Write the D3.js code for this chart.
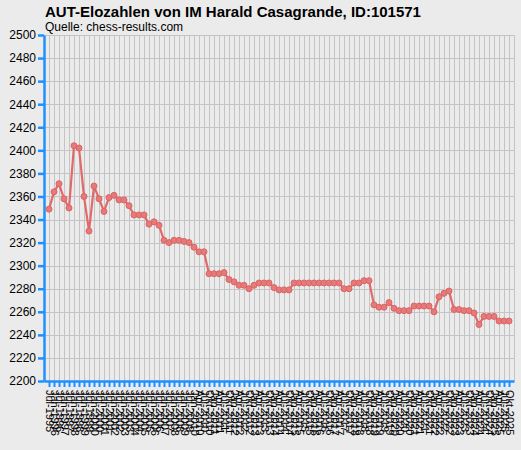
<!DOCTYPE html>
<html>
<head>
<meta charset="utf-8">
<script src="https://cdn.jsdelivr.net/npm/d3@7"></script>
<style>
  html, body { margin: 0; padding: 0; background: #ebebeb; }
  svg { display: block; font-family: "Liberation Sans", Arial, sans-serif; }
</style>
</head>
<body>
<svg id="chart" width="521" height="450"></svg>
<script>
const titleText = "AUT-Elozahlen von IM Harald Casagrande, ID:101571";
const subtitleText = "Quelle: chess-results.com";

const periods = [
  "Jul-1995","Jan-1996","Jul-1996","Jan-1997","Jul-1997","Jan-1998","Jul-1998","Jan-1999","Jul-1999","Jan-2000",
  "Jul-2000","Jan-2001","Jul-2001","Jan-2002","Jul-2002","Jan-2003","Jul-2003","Jan-2004","Jul-2004","Jan-2005",
  "Jul-2005","Jan-2006","Jul-2006","Jan-2007","Jul-2007","Jan-2008","Jul-2008","Jan-2009","Jul-2009","Jan-2010",
  "Apr-2010","Jul-2010","Okt-2010",
  "Jan-2011","Apr-2011","Jul-2011","Okt-2011","Jan-2012","Apr-2012","Jul-2012","Okt-2012",
  "Jan-2013","Apr-2013","Jul-2013","Okt-2013","Jan-2014","Apr-2014","Jul-2014","Okt-2014",
  "Jan-2015","Apr-2015","Jul-2015","Okt-2015","Jan-2016","Apr-2016","Jul-2016","Okt-2016",
  "Jan-2017","Apr-2017","Jul-2017","Okt-2017","Jan-2018","Apr-2018","Jul-2018","Okt-2018",
  "Jan-2019","Apr-2019","Jul-2019","Okt-2019","Jan-2020","Apr-2020","Jul-2020","Okt-2020",
  "Jan-2021","Apr-2021","Jul-2021","Okt-2021","Jan-2022","Apr-2022","Jul-2022","Okt-2022",
  "Jan-2023","Apr-2023","Jul-2023","Okt-2023","Jan-2024","Apr-2024","Jul-2024","Okt-2024",
  "Jan-2025","Apr-2025","Jul-2025","Okt-2025"
];

const elo = [
  2349,2364,2371,2358,2350,2404,2402,2360,2330,2369,
  2358,2347,2359,2361,2357,2357,2352,2344,2344,2344,
  2336,2338,2335,2322,2320,2322,2322,2321,2320,2316,
  2312,2312,2293,2293,2293,2294,2288,2286,2283,2283,
  2280,2283,2285,2285,2285,2281,2279,2279,2279,2285,
  2285,2285,2285,2285,2285,2285,2285,2285,2285,2280,
  2280,2285,2285,2287,2287,2266,2264,2264,2268,2263,
  2261,2261,2261,2265,2265,2265,2265,2260,2273,2276,
  2278,2262,2262,2261,2261,2259,2249,2256,2256,2256,
  2252,2252,2252
];

const yTicks = [2200,2220,2240,2260,2280,2300,2320,2340,2360,2380,2400,2420,2440,2460,2480,2500];

const svg = d3.select("#chart");
const mLeft = 44, mRight = 514, mTop = 35, mBottom = 381;
const axisColor = "#1e90ff";
const lineColor = "#e06a6a";

const x = d3.scalePoint().domain(periods).range([mLeft, mRight]).padding(1);
const y = d3.scaleLinear().domain([2200, 2500]).range([mBottom, mTop]);

svg.append("rect").attr("width", 521).attr("height", 450).attr("fill", "#ebebeb");

// grid
const grid = svg.append("g").attr("stroke", "#c4c4c4").attr("stroke-width", 1);
grid.selectAll("line.v").data(periods).enter().append("line")
  .attr("x1", d => Math.round(x(d)) + 0.5).attr("x2", d => Math.round(x(d)) + 0.5)
  .attr("y1", mTop).attr("y2", mBottom);
grid.append("line").attr("x1", mRight + 0.5).attr("x2", mRight + 0.5).attr("y1", mTop).attr("y2", mBottom);
grid.selectAll("line.h").data(yTicks).enter().append("line")
  .attr("x1", mLeft).attr("x2", mRight)
  .attr("y1", d => Math.round(y(d)) + 0.5).attr("y2", d => Math.round(y(d)) + 0.5);

// title
svg.append("text").attr("x", 45).attr("y", 17)
  .attr("font-size", 15).attr("font-weight", "bold").attr("fill", "#000")
  .text(titleText);
svg.append("text").attr("x", 45).attr("y", 31)
  .attr("font-size", 12).attr("fill", "#000")
  .text(subtitleText);

// y axis
const yAxis = svg.append("g").attr("transform", `translate(${mLeft},0)`)
  .call(d3.axisLeft(y).tickValues(yTicks).tickFormat(d3.format("d")).tickSize(6).tickSizeOuter(0).tickPadding(2));
yAxis.select(".domain").attr("stroke", axisColor).attr("stroke-width", 2.5);
yAxis.selectAll(".tick line").attr("stroke", axisColor).attr("stroke-width", 2.5);
yAxis.selectAll(".tick text").attr("font-size", 12).attr("fill", "#000")
  .attr("font-family", "Liberation Sans, Arial, sans-serif");

// x axis
const xAxis = svg.append("g").attr("transform", `translate(0,${mBottom})`)
  .call(d3.axisBottom(x).tickSize(6).tickSizeOuter(0).tickPadding(3));
xAxis.select(".domain").attr("stroke", axisColor).attr("stroke-width", 2.5);
xAxis.selectAll(".tick line").attr("stroke", axisColor).attr("stroke-width", 2);
xAxis.selectAll(".tick text")
  .attr("font-size", 11).attr("fill", "#000")
  .attr("font-family", "Liberation Sans, Arial, sans-serif")
  .attr("text-anchor", "start")
  .attr("transform", "rotate(90)")
  .attr("x", 9).attr("y", 0).attr("dy", "0.35em");

// line
const line = d3.line().x((d, i) => x(periods[i])).y(d => y(d));
svg.append("path").datum(elo)
  .attr("d", line).attr("fill", "none")
  .attr("stroke", lineColor).attr("stroke-width", 2.2).attr("stroke-linejoin", "round");

svg.append("g").selectAll("circle").data(elo).enter().append("circle")
  .attr("cx", (d, i) => x(periods[i])).attr("cy", d => y(d))
  .attr("r", 3)
  .attr("fill", "#e47a7a").attr("stroke", "#dc6464").attr("stroke-width", 1);
</script>
</body>
</html>
